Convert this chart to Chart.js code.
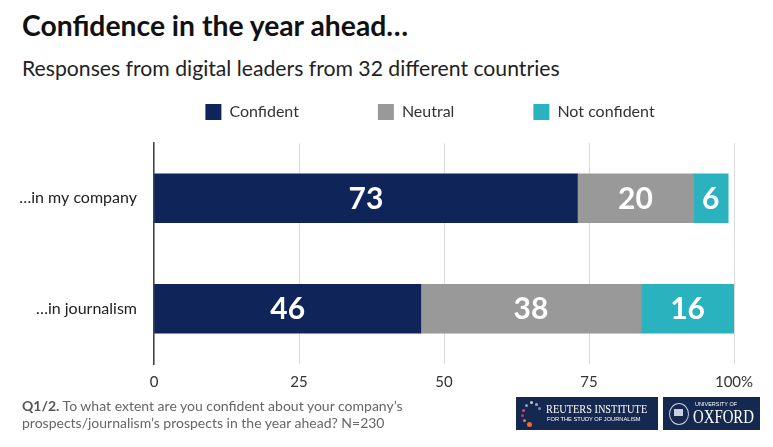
<!DOCTYPE html>
<html>
<head>
<meta charset="utf-8">
<script src="https://cdn.jsdelivr.net/npm/chart.js@4/dist/chart.umd.min.js"></script>
<style>
  html, body { margin: 0; padding: 0; background: #fff; }
  body { width: 773px; height: 447px; position: relative; overflow: hidden; font-family: 'Lato', sans-serif; }
  #title { position: absolute; left: 22px; top: 8px; font-size: 28.3px; font-weight: 700; color: #111; }
  #subtitle { position: absolute; left: 22px; top: 55px; font-size: 21.2px; color: #222; }
  #chartBox { position: absolute; left: 0; top: 0; width: 773px; height: 447px; }
  #note { position: absolute; left: 22px; top: 397px; font-size: 14px; color: #666; line-height: 17px; }
  #note b { color: #555; }
  .logo { position: absolute; top: 397px; height: 33px; background: #15284f; color: #fff; font-family: 'Liberation Serif', serif; white-space: nowrap; }
  .logo div { position: absolute; transform-origin: left top; }
  #reuters { left: 516px; width: 142px; }
  #oxford { left: 663px; width: 97px; }
  .dot { width: 3px; height: 3px; border-radius: 50%; }
</style>
</head>
<body>
<div id="title">Confidence in the year ahead…</div>
<div id="subtitle">Responses from digital leaders from 32 different countries</div>
<div id="chartBox"><canvas id="chart" width="773" height="447"></canvas></div>
<div id="note"><b>Q1/2.</b> To what extent are you confident about your company’s<br>prospects/journalism’s prospects in the year ahead? N=230</div>
<div class="logo" id="reuters">
  <div class="dot" style="left:14px;top:4px;background:#c9c9d6"></div>
  <div class="dot" style="left:9px;top:7px;background:#8fa0c8"></div>
  <div class="dot" style="left:6px;top:12px;background:#d24a8c"></div>
  <div class="dot" style="left:5px;top:17px;background:#b53a6e"></div>
  <div class="dot" style="left:7px;top:22px;background:#e07b3a"></div>
  <div class="dot" style="left:11px;top:25px;width:5px;height:5px;background:#f06a28"></div>
  <div class="dot" style="left:19px;top:6px;background:#9aa8cc"></div>
  <div class="dot" style="left:22px;top:10px;background:#7e8fbf"></div>
  <div style="left:30px;top:5px;font-size:12px;transform:scaleX(0.86);">REUTERS INSTITUTE</div>
  <div style="left:31px;top:19px;font-size:6px;font-family:'Liberation Sans',sans-serif;transform:scaleX(0.95);">FOR THE STUDY OF JOURNALISM</div>
</div>
<div class="logo" id="oxford">
  <div style="left:6px;top:6px;width:18px;height:20px;border:1.5px solid #c8cfdd;border-radius:50%;"></div>
  <div style="left:11px;top:12px;width:9px;height:7px;background:#c8cfdd;"></div>
  <div style="left:32px;top:4px;font-size:5.5px;font-family:'Liberation Sans',sans-serif;">UNIVERSITY OF</div>
  <div style="left:30px;top:9px;font-size:19px;transform:scaleX(0.78);">OXFORD</div>
</div>
<script>
// categories and series (percent of respondents)
const categories = ['…in my company', '…in journalism'];
const confident = [73, 46];
const neutral = [20, 38];
const notConfident = [6, 16];
const tickValues = [0, 25, 50, 75, 100];

// write the value in the middle of each bar segment
const barLabels = {
  id: 'barLabels',
  afterDatasetsDraw(chart) {
    const ctx = chart.ctx;
    ctx.save();
    ctx.fillStyle = '#ffffff';
    ctx.font = "700 30px 'Lato', sans-serif";
    ctx.textAlign = 'center';
    ctx.textBaseline = 'middle';
    chart.data.datasets.forEach((ds, i) => {
      chart.getDatasetMeta(i).data.forEach((bar, j) => {
        const p = bar.getProps(['x', 'y', 'base'], true);
        ctx.fillText(String(ds.data[j]), (p.x + p.base) / 2, p.y + 1);
      });
    });
    ctx.restore();
  }
};

// legend sits well above the plot and a bit right of centre
const legendTweak = {
  id: 'legendTweak',
  beforeLayout(chart) {
    const lg = chart.legend;
    if (lg && !lg._patched) {
      const fit = lg.fit.bind(lg);
      lg.fit = function () { fit(); this.height = 117; };
      const draw = lg.draw.bind(lg);
      lg.draw = function () {
        const ctx = this.ctx;
        ctx.save();
        ctx.translate(63, -1);
        draw();
        ctx.restore();
      };
      lg._patched = true;
    }
  }
};

new Chart(document.getElementById('chart'), {
  type: 'bar',
  data: {
    labels: categories,
    datasets: [
      { label: 'Confident', data: confident, backgroundColor: '#0f2559' },
      { label: 'Neutral', data: neutral, backgroundColor: '#999999' },
      { label: 'Not confident', data: notConfident, backgroundColor: '#2bb2bf' }
    ]
  },
  options: {
    indexAxis: 'y',
    responsive: false,
    animation: false,
    barThickness: 49,
    layout: { padding: { top: 26, right: 39, left: 0, bottom: 47 } },
    scales: {
      x: {
        stacked: true,
        min: 0, max: 100,
        afterBuildTicks(scale) { scale.ticks = tickValues.map(v => ({ value: v })); },
        ticks: {
          autoSkip: false,
          maxRotation: 0,
          color: '#333',
          font: { size: 15, family: "'Lato', sans-serif" },
          padding: 9,
          callback: v => v === 100 ? '100%' : String(v)
        },
        grid: { color: '#dcdcdc', tickLength: 0, drawOnChartArea: true },
        border: { display: false }
      },
      y: {
        stacked: true,
        afterFit(scale) { scale.width = 154; },
        ticks: {
          color: '#222',
          font: { size: 16, family: "'Lato', sans-serif" },
          padding: 9
        },
        grid: { display: false },
        border: { display: true, color: '#444', width: 1.5 }
      }
    },
    plugins: {
      legend: {
        position: 'top',
        labels: {
          boxWidth: 16, boxHeight: 16,
          padding: 79,
          color: '#333',
          font: { size: 16, family: "'Lato', sans-serif" }
        }
      },
      tooltip: { enabled: false }
    }
  },
  plugins: [barLabels, legendTweak]
});
</script>
</body>
</html>
